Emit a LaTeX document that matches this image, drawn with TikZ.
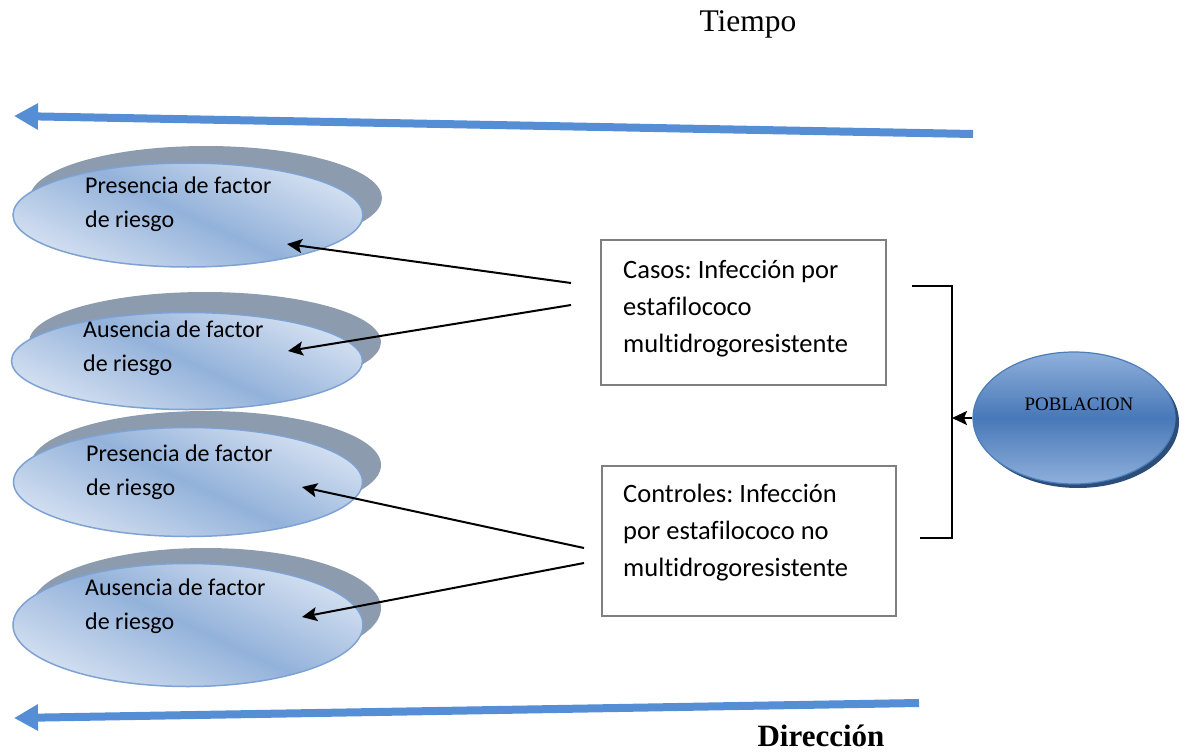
\documentclass[tikz,border=0pt]{standalone}
\usepackage{fontspec}
\setmainfont[Ligatures={NoCommon}]{Carlito}
\newfontfamily\tnr{Liberation Serif}
\usetikzlibrary{arrows.meta,shapes.geometric}
\frenchspacing
\definecolor{arrowblue}{HTML}{558ED5}
\definecolor{shadowgray}{HTML}{8C9BAD}
\definecolor{elborder}{HTML}{7EA2D3}
\definecolor{ellight}{HTML}{D4E0F1}
\definecolor{eldark}{HTML}{93B2DA}
\definecolor{boxgray}{HTML}{7F7F7F}
\definecolor{poblight}{HTML}{8FB0DB}
\definecolor{pobdark}{HTML}{4878B8}
\definecolor{pobshadow}{HTML}{2C4D77}
\definecolor{pobborder}{HTML}{4A7EBB}
\tikzset{
  shadowell/.style={ellipse, fill=shadowgray, draw=none, inner sep=0pt},
  frontell/.style={ellipse, draw=elborder, line width=1.5pt, inner sep=0pt,
    top color=ellight, bottom color=ellight, middle color=eldark, shading angle=-25},
  eltext/.style={anchor=west, align=left, inner sep=0pt, font=\fontsize{24}{34}\selectfont},
  boxnode/.style={draw=boxgray, line width=1.5pt, rectangle, inner sep=0pt},
  boxtext/.style={anchor=north west, align=left, inner sep=0pt, font=\fontsize{26.5}{37}\selectfont},
  bigarrow/.style={draw=arrowblue, line width=8pt, -{Triangle[length=24pt,width=25pt]}},
  blackarrow/.style={draw=black, line width=2pt, -{Stealth[length=15pt,width=14pt,inset=3pt]}},
}
\begin{document}
\begin{tikzpicture}[x=1pt,y=-1pt]
\useasboundingbox (0,0) rectangle (1185,752);

% title
\node[font=\tnr\fontsize{31.5}{33}\selectfont, inner sep=0pt] (tiempo) at (748,24) {Tiempo};
\node[font=\tnr\bfseries\fontsize{31}{33}\selectfont, inner sep=0pt] (direccion) at (821,736) {Dirección};

% blue arrows
\coordinate (ta1) at (973,134);
\coordinate (ta2) at (14,116);
\draw[bigarrow] (ta1) -- (ta2);
\coordinate (ba1) at (919,703);
\coordinate (ba2) at (14,718);
\draw[bigarrow] (ba1) -- (ba2);

% ellipses
\node[shadowell, minimum width=352pt, minimum height=104pt] (s1) at (206,198) {};
\node[frontell, minimum width=350pt, minimum height=104pt] (e1) at (188,215) {};
\node[eltext] (t1) at (85,204) {Presencia de factor\\de riesgo};

\node[shadowell, minimum width=352pt, minimum height=100pt] (s2) at (205,342) {};
\node[frontell, minimum width=351pt, minimum height=97pt] (e2) at (187,361) {};
\node[eltext] (t2) at (83,348) {Ausencia de factor\\de riesgo};

\node[shadowell, minimum width=350pt, minimum height=108pt] (s3) at (206,465) {};
\node[frontell, minimum width=349pt, minimum height=109pt] (e3) at (188,482) {};
\node[eltext] (t3) at (86,472) {Presencia de factor\\de riesgo};

\node[shadowell, minimum width=350pt, minimum height=120pt] (s4) at (206,608) {};
\node[frontell, minimum width=350pt, minimum height=123pt] (e4) at (188,625) {};
\node[eltext] (t4) at (85,606) {Ausencia de factor\\de riesgo};

% boxes
\node[boxnode, minimum width=285pt, minimum height=145pt] (casos) at (743.5,312.5) {};
\node[boxtext] (casostxt) at (623,260) {Casos: Infección por\\estafilococo\\multidrogoresistente};
\node[boxnode, minimum width=294pt, minimum height=150pt] (controles) at (749,541) {};
\node[boxtext] (controlestxt) at (623,484) {Controles: Infección\\por estafilococo no\\multidrogoresistente};

% poblacion
\node[ellipse, fill=pobshadow, minimum width=202pt, minimum height=132pt, inner sep=0pt] (pobs) at (1078,422) {};
\node[ellipse, draw=pobborder, line width=1.2pt, top color=poblight, bottom color=poblight, middle color=pobdark,
      minimum width=202pt, minimum height=132pt, inner sep=0pt] (pob) at (1074,418) {};
\node[font=\tnr\fontsize{19}{20}\selectfont, inner sep=0pt] (pobtxt) at (1079,404) {POBLACION};

% bracket
\coordinate (bt) at (912,286);
\coordinate (bb) at (920,538);
\coordinate (bm) at (952,418);
\draw[line width=1.8pt] (bt) -- (bm |- bt) -- (bm |- bb) -- (bb);
\draw[blackarrow] (pob.west) -- (bm);

% black arrows
\coordinate (a1s) at (571,283); \coordinate (a1e) at (287,244);
\coordinate (a2s) at (571,305); \coordinate (a2e) at (288,351);
\coordinate (a3s) at (584,548); \coordinate (a3e) at (302,487);
\coordinate (a4s) at (584,563); \coordinate (a4e) at (302,617);
\draw[blackarrow] (a1s) -- (a1e);
\draw[blackarrow] (a2s) -- (a2e);
\draw[blackarrow] (a3s) -- (a3e);
\draw[blackarrow] (a4s) -- (a4e);
\end{tikzpicture}
\end{document}
